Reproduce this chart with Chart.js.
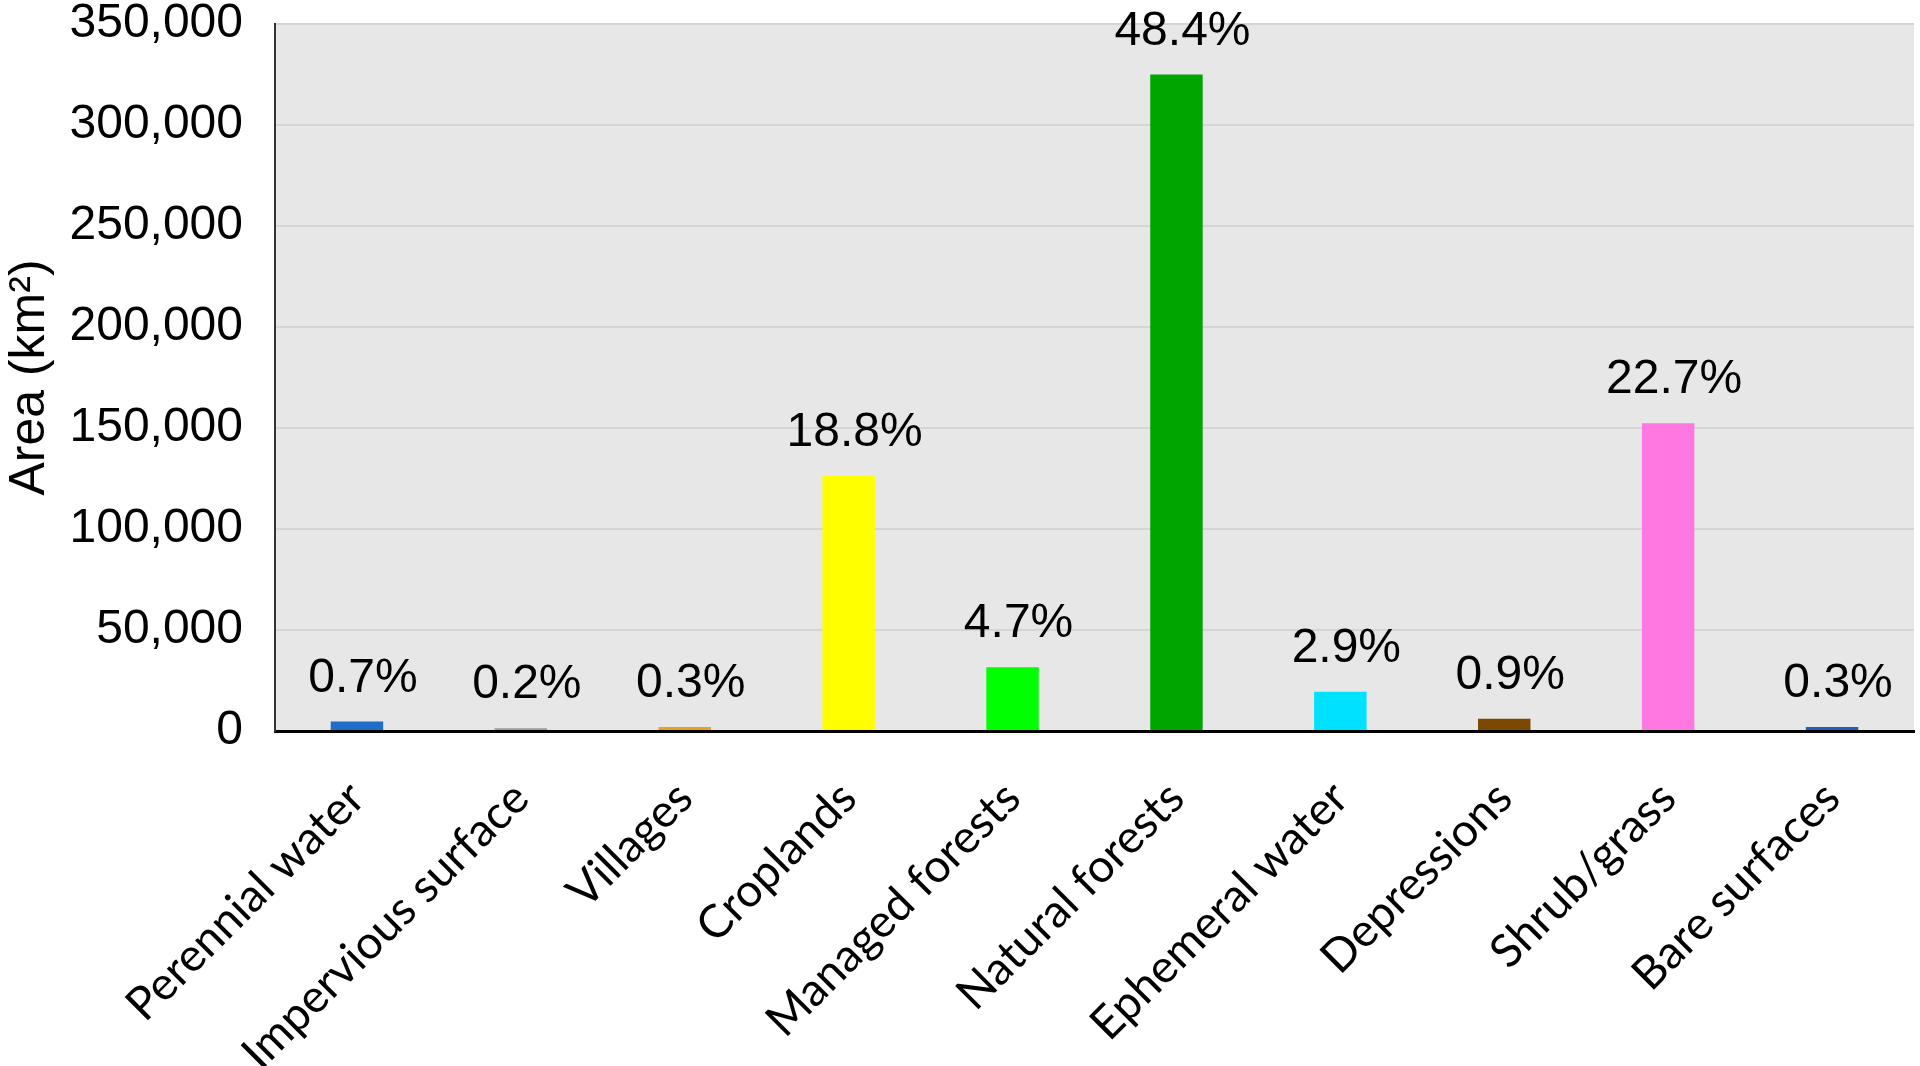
<!DOCTYPE html>
<html>
<head>
<meta charset="utf-8">
<script src="https://cdn.jsdelivr.net/npm/chart.js@4"></script>
<style>
  body { margin: 0; background: #fff; }
  canvas { display: block; }
</style>
</head>
<body>
<canvas id="c" width="1920" height="1066"></canvas>
<script>
const categories = ['Perennial water', 'Impervious surface', 'Villages', 'Croplands', 'Managed forests',
  'Natural forests', 'Ephemeral water', 'Depressions', 'Shrub/grass', 'Bare surfaces']
const areas = [4700, 1340, 2010, 126200, 31560, 325000, 19470, 6040, 152400, 2010]
const shares = ['0.7%', '0.2%', '0.3%', '18.8%', '4.7%', '48.4%', '2.9%', '0.9%', '22.7%', '0.3%']
const barColors = ['#1f6fc8', '#9a9a9a', '#e8a020', '#ffff00', '#00ff00',
  '#00a500', '#00e1ff', '#7b4a00', '#ff77e1', '#1f5fc0']

// grey plot background
const plotBg = {
  id: 'plotBg',
  beforeDraw(chart) {
    const {ctx, chartArea} = chart
    ctx.save()
    ctx.fillStyle = '#e7e7e7'
    ctx.fillRect(chartArea.left, chartArea.top, chartArea.right - chartArea.left, chartArea.bottom - chartArea.top)
    ctx.restore()
  }
}

// percentage labels above bars
const shareLabels = {
  id: 'shareLabels',
  afterDatasetsDraw(chart) {
    const {ctx} = chart
    ctx.save()
    ctx.font = '48px "Liberation Sans", Arial, sans-serif'
    ctx.fillStyle = '#000'
    ctx.textAlign = 'center'
    ctx.textBaseline = 'alphabetic'
    chart.getDatasetMeta(0).data.forEach((bar, i) => {
      ctx.fillText(shares[i], bar.x + 6, bar.y - 30)
    })
    ctx.restore()
  }
}

new Chart(document.getElementById('c'), {
  type: 'bar',
  data: {
    labels: categories,
    datasets: [{
      label: 'Area',
      data: areas,
      backgroundColor: barColors,
      barPercentage: 0.32,
      categoryPercentage: 1
    }]
  },
  options: {
    responsive: false,
    animation: false,
    layout: { padding: { top: 24, right: 6, left: 0, bottom: 0 } },
    plugins: { legend: { display: false }, tooltip: { enabled: false } },
    scales: {
      x: {
        afterFit(scale) { scale.height = 335 },
        grid: { display: false },
        border: { color: '#000', width: 3 },
        ticks: {
          color: '#000',
          font: { family: 'Lato, "Open Sans", sans-serif', size: 46 },
          maxRotation: 45,
          minRotation: 45,
          autoSkip: false,
          padding: 32
        }
      },
      y: {
        min: 0,
        max: 350000,
        afterFit(scale) {
          scale.width = 275
          scale.paddingTop = 0
          scale.paddingBottom = 0
        },
        grid: { color: '#d5d5d5', lineWidth: 2, drawTicks: false },
        border: { color: '#333', width: 2 },
        ticks: {
          stepSize: 50000,
          color: '#000',
          padding: 32,
          font: { family: '"Liberation Sans", Arial, sans-serif', size: 48 },
          callback: v => v.toLocaleString('en-US')
        },
        title: {
          display: true,
          text: 'Area (km²)',
          color: '#000',
          padding: 0,
          font: { family: '"Liberation Sans", Arial, sans-serif', size: 50 }
        }
      }
    }
  },
  plugins: [plotBg, shareLabels]
})
</script>
</body>
</html>
